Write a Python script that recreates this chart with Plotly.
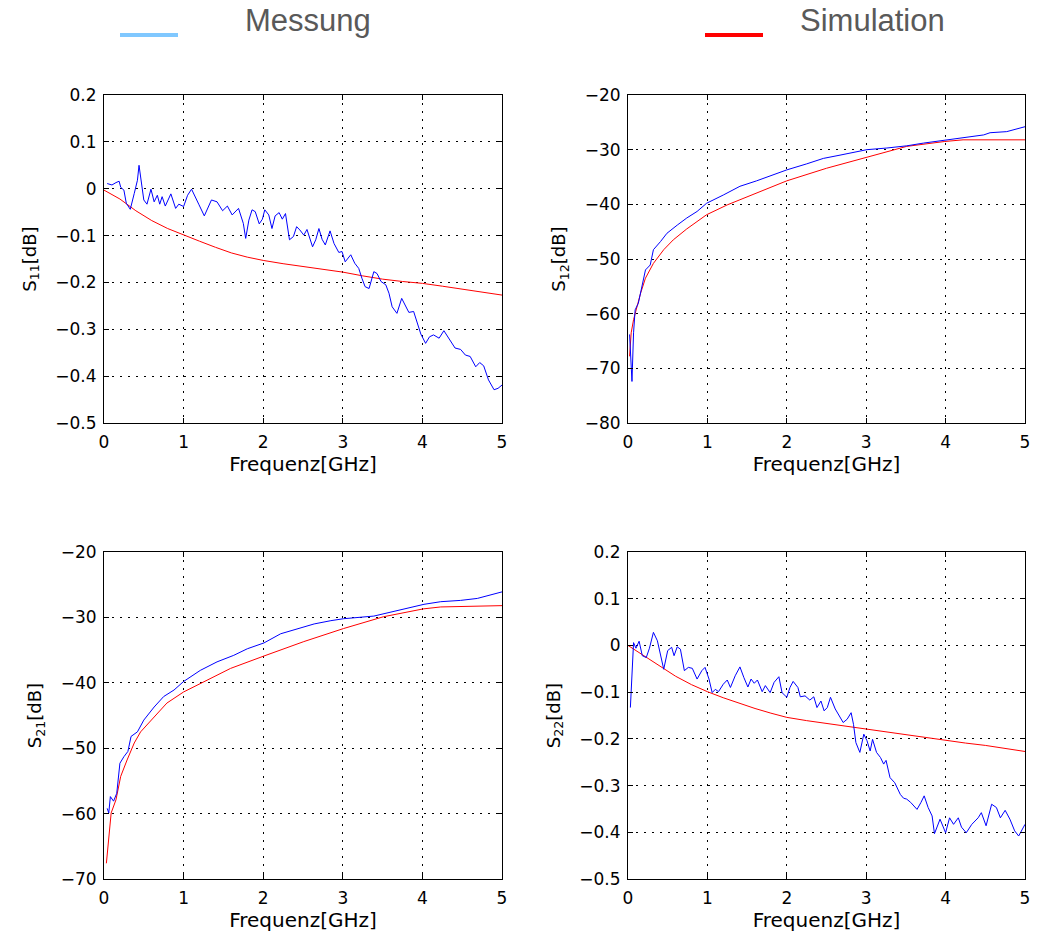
import plotly.graph_objects as go

# ---------------- data ----------------
f_s11_meas = [0.04, 0.10, 0.15, 0.19, 0.21, 0.25, 0.28, 0.33, 0.38, 0.42, 0.44, 0.47, 0.50, 0.54, 0.59,
              0.63, 0.67, 0.70, 0.73, 0.77, 0.84, 0.90, 0.94, 1.00, 1.05, 1.10, 1.14, 1.19, 1.26, 1.30,
              1.35, 1.42, 1.49, 1.55, 1.61, 1.69, 1.75, 1.78, 1.82, 1.86, 1.90, 1.95, 1.99, 2.02, 2.07,
              2.11, 2.15, 2.20, 2.24, 2.28, 2.33, 2.38, 2.42, 2.46, 2.51, 2.55, 2.62, 2.66, 2.70, 2.74,
              2.78, 2.84, 2.89, 2.95, 2.99, 3.03, 3.10, 3.15, 3.20, 3.24, 3.28, 3.33, 3.39, 3.43, 3.48,
              3.54, 3.58, 3.62, 3.68, 3.74, 3.79, 3.83, 3.89, 3.93, 3.98, 4.04, 4.09, 4.14, 4.21, 4.27,
              4.33, 4.41, 4.48, 4.54, 4.60, 4.67, 4.72, 4.77, 4.83, 4.90, 4.95, 5.00]
s11_meas = [0.011, 0.008, 0.013, 0.016, 0.003, -0.003, -0.031, -0.044, -0.010, 0.018, 0.050, 0.018, -0.024,
            -0.033, -0.001, -0.028, -0.014, -0.033, -0.017, -0.037, -0.011, -0.042, -0.033, -0.038, -0.014,
            -0.001, -0.014, -0.033, -0.058, -0.042, -0.024, -0.028, -0.047, -0.037, -0.056, -0.042, -0.074,
            -0.106, -0.067, -0.045, -0.049, -0.075, -0.065, -0.045, -0.056, -0.085, -0.058, -0.051, -0.065,
            -0.053, -0.109, -0.102, -0.081, -0.088, -0.099, -0.087, -0.124, -0.109, -0.085, -0.108, -0.120,
            -0.090, -0.117, -0.136, -0.134, -0.156, -0.141, -0.159, -0.170, -0.191, -0.209, -0.213, -0.177,
            -0.181, -0.198, -0.205, -0.223, -0.252, -0.266, -0.234, -0.249, -0.264, -0.262, -0.284, -0.310,
            -0.330, -0.316, -0.312, -0.319, -0.303, -0.319, -0.340, -0.343, -0.355, -0.358, -0.380, -0.371,
            -0.378, -0.408, -0.429, -0.426, -0.419]

f_refl_sim = [0.0, 0.2, 0.4, 0.6, 0.8, 1.0, 1.2, 1.4, 1.6, 1.8, 2.0, 2.25, 2.5, 2.75, 3.0, 3.25, 3.5,
              3.75, 4.0, 4.25, 4.5, 4.75, 5.0]
s11_sim = [-0.003, -0.022, -0.047, -0.068, -0.085, -0.099, -0.112, -0.125, -0.137, -0.146, -0.153, -0.160,
           -0.166, -0.172, -0.178, -0.186, -0.193, -0.198, -0.202, -0.208, -0.214, -0.220, -0.227]
s22_sim = [0.000, -0.022, -0.045, -0.066, -0.084, -0.099, -0.112, -0.124, -0.135, -0.145, -0.154, -0.161,
           -0.167, -0.173, -0.179, -0.186, -0.192, -0.198, -0.204, -0.209, -0.214, -0.220, -0.227]

f_s12_meas = [0.02, 0.04, 0.05, 0.07, 0.09, 0.13, 0.18, 0.22, 0.28, 0.32, 0.41, 0.49, 0.62, 0.74, 0.87,
              0.99, 1.20, 1.41, 1.62, 1.83, 2.00, 2.25, 2.46, 2.67, 3.01, 3.26, 3.51, 3.72, 3.99, 4.22,
              4.48, 4.56, 4.77, 5.00]
s12_meas = [-63.8, -69.0, -72.4, -63.5, -59.3, -58.1, -54.4, -52.0, -51.1, -48.3, -46.8, -45.3, -43.8,
            -42.5, -41.3, -39.8, -38.3, -36.7, -35.7, -34.6, -33.7, -32.6, -31.6, -31.0, -30.0, -29.7,
            -29.3, -28.8, -28.3, -27.9, -27.3, -26.9, -26.7, -25.8]
f_s12_sim = [0.02, 0.04, 0.07, 0.11, 0.16, 0.22, 0.32, 0.45, 0.57, 0.74, 0.99, 1.25, 1.50, 2.00, 2.50,
             3.01, 3.51, 3.99, 4.22, 5.00]
s12_sim = [-67.8, -63.5, -61.1, -58.7, -56.2, -53.5, -50.8, -48.3, -46.5, -44.5, -41.9, -40.1, -38.6,
           -35.7, -33.4, -31.4, -29.4, -28.5, -28.2, -28.2]

f_s21_meas = [0.04, 0.06, 0.08, 0.12, 0.16, 0.20, 0.25, 0.30, 0.34, 0.42, 0.50, 0.63, 0.75, 0.88, 1.00,
              1.21, 1.42, 1.63, 1.80, 2.01, 2.22, 2.43, 2.64, 2.85, 3.01, 3.39, 3.60, 3.81, 4.02, 4.23,
              4.48, 4.69, 4.85, 5.00]
s21_meas = [-59.2, -59.9, -57.4, -58.1, -56.9, -52.3, -51.3, -50.5, -48.2, -47.5, -45.7, -43.7, -42.1,
            -41.1, -39.8, -38.1, -36.8, -35.8, -34.8, -33.9, -32.5, -31.7, -31.0, -30.5, -30.2, -29.8,
            -29.2, -28.6, -28.0, -27.6, -27.4, -27.1, -26.6, -26.1]
f_s21_sim = [0.03, 0.06, 0.09, 0.15, 0.21, 0.29, 0.38, 0.46, 0.63, 0.79, 1.00, 1.30, 1.59, 2.01, 2.51,
             3.01, 3.51, 4.01, 4.23, 5.00]
s21_sim = [-67.6, -63.5, -59.9, -57.9, -54.3, -51.8, -49.2, -47.5, -45.2, -43.1, -41.4, -39.6, -37.8,
           -35.9, -33.7, -31.7, -29.9, -28.7, -28.4, -28.2]

f_s22_meas = [0.03, 0.05, 0.07, 0.10, 0.14, 0.18, 0.23, 0.27, 0.32, 0.37, 0.41, 0.45, 0.50, 0.55, 0.58,
              0.62, 0.66, 0.71, 0.76, 0.81, 0.87, 0.93, 0.97, 1.02, 1.06, 1.10, 1.14, 1.20, 1.25, 1.29,
              1.35, 1.41, 1.46, 1.51, 1.55, 1.59, 1.63, 1.69, 1.73, 1.79, 1.84, 1.90, 1.94, 2.00, 2.04,
              2.08, 2.14, 2.17, 2.23, 2.29, 2.34, 2.38, 2.43, 2.47, 2.51, 2.55, 2.61, 2.66, 2.71, 2.76,
              2.81, 2.84, 2.87, 2.92, 2.97, 3.01, 3.05, 3.08, 3.13, 3.18, 3.22, 3.25, 3.30, 3.36, 3.43,
              3.47, 3.51, 3.56, 3.64, 3.69, 3.73, 3.78, 3.83, 3.86, 3.89, 3.93, 4.00, 4.05, 4.10, 4.16,
              4.20, 4.26, 4.33, 4.41, 4.45, 4.51, 4.58, 4.64, 4.69, 4.75, 4.81, 4.87, 4.92, 4.96, 5.00]
s22_meas = [-0.133, -0.054, 0.006, -0.006, 0.009, -0.022, -0.026, -0.006, 0.028, 0.010, -0.019, -0.051,
            -0.011, -0.004, -0.022, -0.003, -0.008, -0.054, -0.047, -0.049, -0.072, -0.054, -0.047, -0.072,
            -0.101, -0.094, -0.099, -0.083, -0.074, -0.090, -0.065, -0.046, -0.069, -0.089, -0.072, -0.081,
            -0.074, -0.099, -0.086, -0.101, -0.079, -0.067, -0.101, -0.111, -0.090, -0.077, -0.090, -0.110,
            -0.108, -0.117, -0.110, -0.133, -0.119, -0.140, -0.133, -0.111, -0.136, -0.151, -0.165, -0.158,
            -0.144, -0.169, -0.208, -0.229, -0.190, -0.204, -0.226, -0.201, -0.229, -0.240, -0.254, -0.246,
            -0.283, -0.294, -0.319, -0.327, -0.329, -0.336, -0.351, -0.336, -0.322, -0.347, -0.365, -0.403,
            -0.390, -0.372, -0.401, -0.369, -0.383, -0.369, -0.389, -0.401, -0.383, -0.369, -0.358, -0.386,
            -0.340, -0.347, -0.369, -0.353, -0.372, -0.397, -0.408, -0.397, -0.383]

x_ticks = [0, 1, 2, 3, 4, 5]
refl_ticks = [0.2, 0.1, 0, -0.1, -0.2, -0.3, -0.4, -0.5]
s12_ticks = [-20, -30, -40, -50, -60, -70, -80]
s21_ticks = [-20, -30, -40, -50, -60, -70]

legend_names = ["Messung", "Simulation"]
x_title = "Frequenz[GHz]"
y_titles = ["S<sub>11</sub>[dB]", "S<sub>12</sub>[dB]", "S<sub>21</sub>[dB]", "S<sub>22</sub>[dB]"]

# ---------------- figure ----------------
W, H = 1044, 933
BLUE, RED = "#0000FF", "#FF0000"

fig = go.Figure()

panels = [
    (f_s11_meas, s11_meas, f_refl_sim, s11_sim, "x", "y"),
    (f_s12_meas, s12_meas, f_s12_sim, s12_sim, "x2", "y2"),
    (f_s21_meas, s21_meas, f_s21_sim, s21_sim, "x3", "y3"),
    (f_s22_meas, s22_meas, f_refl_sim, s22_sim, "x4", "y4"),
]
for fm, ym, fs, ys, xa, ya in panels:
    fig.add_trace(go.Scatter(x=fs, y=ys, mode="lines", name=legend_names[1], xaxis=xa, yaxis=ya,
                             line=dict(color=RED, width=1), showlegend=False))
    fig.add_trace(go.Scatter(x=fm, y=ym, mode="lines", name=legend_names[0], xaxis=xa, yaxis=ya,
                             line=dict(color=BLUE, width=1), showlegend=False))

def px_x(p):
    return p / W

def px_y(p):
    return 1 - p / H

xdom_l = [px_x(104), px_x(502)]
xdom_r = [px_x(628), px_x(1025)]
ydom_t = [px_y(423), px_y(95)]
ydom_b = [px_y(879), px_y(552)]

tick_font = dict(family="DejaVu Sans, Arial, sans-serif", size=17, color="black")
xtitle_font = dict(family="DejaVu Sans, Arial, sans-serif", size=20, color="black")
ytitle_font = dict(family="DejaVu Sans, Arial, sans-serif", size=18, color="black")

def xaxis(dom, anchor):
    return dict(domain=dom, anchor=anchor, range=[0, 5], tickvals=x_ticks, showgrid=True,
                gridcolor="black", griddash="2px,6px", gridwidth=1, zeroline=False,
                showline=True, linecolor="black", linewidth=1, mirror="ticks", ticks="inside",
                ticklen=5, tickcolor="black", tickfont=tick_font, automargin=False,
                ticklabelstandoff=4,
                title=dict(text=x_title, font=xtitle_font, standoff=1))

def yaxis(dom, anchor, rng, tv, title):
    return dict(domain=dom, anchor=anchor, range=rng, tickvals=tv, showgrid=True,
                gridcolor="black", griddash="2px,6px", gridwidth=1, zeroline=False,
                showline=True, linecolor="black", linewidth=1, mirror="ticks", ticks="inside",
                ticklen=5, tickcolor="black", tickfont=tick_font, automargin=False,
                ticklabelstandoff=3,
                title=dict(text=title, font=ytitle_font, standoff=14))

fig.update_layout(
    width=W, height=H,
    margin=dict(l=0, r=0, t=0, b=0, autoexpand=False),
    paper_bgcolor="white", plot_bgcolor="white",
    showlegend=False,
    xaxis=xaxis(xdom_l, "y"),
    yaxis=yaxis(ydom_t, "x", [-0.5, 0.2], refl_ticks, y_titles[0]),
    xaxis2=xaxis(xdom_r, "y2"),
    yaxis2=yaxis(ydom_t, "x2", [-80, -20], s12_ticks, y_titles[1]),
    xaxis3=xaxis(xdom_l, "y3"),
    yaxis3=yaxis(ydom_b, "x3", [-70, -20], s21_ticks, y_titles[2]),
    xaxis4=xaxis(xdom_r, "y4"),
    yaxis4=yaxis(ydom_b, "x4", [-0.5, 0.2], refl_ticks, y_titles[3]),
)

# legend drawn at the top (line swatch + label)
legend_font = dict(family="Liberation Sans, Arial, sans-serif", size=31, color="#595959")
swatches = [(120, 178, "#80C8FF", 243, legend_names[0]), (705, 763, "#FF0000", 798, legend_names[1])]
for x0, x1, col, tx, name in swatches:
    fig.add_shape(type="line", xref="paper", yref="paper", x0=px_x(x0), x1=px_x(x1),
                  y0=px_y(35), y1=px_y(35), line=dict(color=col, width=4))
    fig.add_annotation(xref="paper", yref="paper", x=px_x(tx), y=px_y(21), xanchor="left",
                       yanchor="middle", text=name, showarrow=False, font=legend_font)

fig.write_html("out.html")
